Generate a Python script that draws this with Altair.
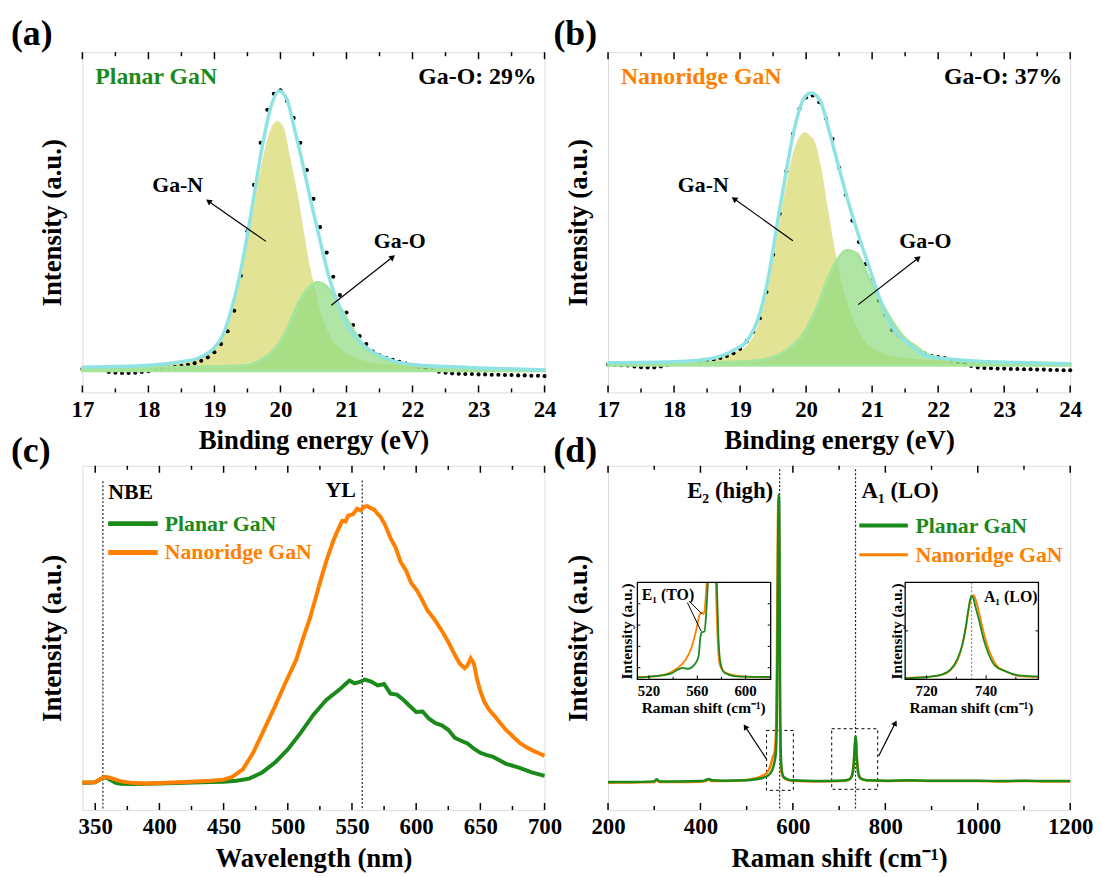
import altair as alt
import pandas as pd

FONT = "Liberation Serif"
GREEN = "#1a8a1a"
ORANGE = "#ff8000"
YELLOW = "#e3e396"
GAO_FILL = "#8fdc7f"
GAO_LINE = "#a6e49a"
CYAN = "#8fe3e3"

W, H1, H2 = 466, 343, 347

# ---------------- (a) Planar GaN, Ga 3d XPS ----------------
a_energy = [17.0, 17.1, 17.2, 17.3, 17.4, 17.5, 17.6, 17.7, 17.8, 17.9, 18.0, 18.1, 18.2, 18.3,
            18.4, 18.5, 18.6, 18.7, 18.8, 18.9, 19.0, 19.1, 19.2, 19.3,
            19.4, 19.5, 19.6, 19.7, 19.8, 19.9, 20.0, 20.1, 20.2, 20.3,
            20.4, 20.5, 20.6, 20.7, 20.8, 20.9, 21.0, 21.1, 21.2, 21.3,
            21.4, 21.5, 21.6, 21.7, 21.8, 21.9, 22.0, 22.1, 22.2, 22.3,
            22.4, 22.5, 22.6, 22.7, 22.8, 22.9, 23.0, 23.1, 23.2, 23.3,
            23.4, 23.5, 23.6, 23.7, 23.8, 23.9, 24.0]
a_counts = [6.9, 6.8, 6.8, 6.7, 6.0, 5.8, 5.7, 5.7, 5.8, 6.0, 6.2, 6.8, 7.0, 7.3,
            7.5, 7.8, 8.1, 8.6, 9.3, 10.3, 11.8, 14.2, 18.0, 24.0,
            34.3, 47.4, 61.0, 73.4, 83.1, 87.8, 88.8, 85.7, 80.7, 73.4,
            65.4, 56.9, 48.6, 41.1, 34.0, 28.6, 23.5, 19.8, 16.6, 14.2,
            12.0, 10.9, 10.2, 9.6, 9.0, 8.5, 8.0, 7.6, 7.1, 6.6,
            6.1, 5.8, 5.6, 5.5, 5.4, 5.4, 5.3, 5.3, 5.2, 5.2,
            5.1, 5.1, 5.0, 5.0, 4.9, 4.9, 4.8]
a_envelope = [(17.0, 7.4), (17.5, 7.6), (18.0, 8.0), (18.5, 9.0), (18.77, 10.2), (18.97, 12.6),
              (19.12, 16.5), (19.27, 25.3), (19.42, 37.9), (19.57, 54.4), (19.72, 71.9),
              (19.85, 83.6), (19.98, 88.6), (20.1, 86.0), (20.22, 76.8), (20.35, 66.1),
              (20.47, 55.4), (20.6, 44.7), (20.72, 35.0), (20.85, 27.2), (20.97, 21.4),
              (21.17, 15.5), (21.37, 12.2), (21.57, 10.3), (21.77, 8.9), (22.0, 8.2),
              (22.5, 7.6), (23.0, 7.2), (24.0, 6.6)]
a_gan = [(17.0, 7.4), (18.0, 7.9), (18.5, 8.8), (18.77, 9.9), (18.97, 12.0), (19.12, 15.5),
         (19.27, 23.5), (19.42, 35.5), (19.57, 51.0), (19.72, 67.0), (19.85, 77.0),
         (19.95, 79.7), (20.05, 77.5), (20.12, 70.9), (20.27, 56.4), (20.42, 38.9),
         (20.52, 30.1), (20.62, 22.5), (20.72, 17.5), (20.97, 11.7), (21.27, 9.2),
         (21.7, 8.0), (22.5, 7.3), (24.0, 6.6)]
a_gao = [(17.0, 7.2), (18.5, 7.4), (19.0, 7.6), (19.47, 7.9), (19.72, 9.7), (19.97, 14.1),
         (20.12, 19.4), (20.27, 26.2), (20.42, 30.6), (20.55, 32.3), (20.7, 31.1),
         (20.87, 26.2), (21.07, 19.4), (21.27, 13.6), (21.47, 10.7), (21.7, 8.8),
         (22.0, 7.9), (22.5, 7.2), (24.0, 6.6)]
a_base = 6.4
a_arrows = [(19.78, 44.4, 18.91, 56.2, 305), (20.77, 25.6, 21.70, 39.8, 52)]

# ---------------- (b) Nanoridge GaN, Ga 3d XPS ----------------
b_energy = a_energy
b_counts = [8.2, 8.1, 8.0, 7.9, 7.6, 7.4, 7.3, 7.3, 7.6, 8.1, 8.3, 8.6, 8.8, 9.0,
            9.2, 9.4, 9.7, 10.1, 10.7, 11.5, 12.8, 15.0, 17.8, 21.8,
            29.5, 40.5, 52.5, 65.0, 76.0, 83.3, 86.7, 87.3, 85.3, 80.5,
            74.5, 66.1, 58.1, 50.5, 44.2, 37.7, 33.0, 27.0, 22.8, 18.3,
            16.8, 15.5, 13.8, 12.3, 11.4, 10.8, 10.4, 10.1, 9.5, 9.0,
            8.3, 7.8, 7.3, 7.2, 7.1, 7.0, 7.0, 6.9, 6.9, 6.8,
            6.8, 6.7, 6.7, 6.6, 6.6, 6.5, 6.5]
b_envelope = [(17.0, 8.7), (18.0, 9.0), (18.62, 10.2), (18.92, 12.6), (19.12, 15.5), (19.27, 21.4),
              (19.42, 33.0), (19.57, 50.5), (19.7, 65.1), (19.82, 77.3), (19.97, 86.5),
              (20.08, 88.0), (20.22, 85.5), (20.35, 76.8), (20.47, 68.0), (20.62, 57.3),
              (20.77, 47.6), (20.92, 38.9), (21.07, 30.1), (21.22, 22.4), (21.37, 17.5),
              (21.57, 14.1), (21.82, 10.7), (22.12, 9.9), (22.6, 9.2), (23.0, 8.9), (24.0, 8.4)]
b_gan = [(17.0, 8.6), (18.0, 8.9), (18.62, 9.9), (18.92, 11.6), (19.12, 14.0), (19.27, 19.2),
         (19.42, 30.0), (19.57, 46.5), (19.7, 60.5), (19.82, 71.0), (19.92, 75.5),
         (19.98, 76.3), (20.05, 75.5), (20.12, 73.9), (20.22, 66.1), (20.32, 54.4),
         (20.42, 42.8), (20.52, 33.0), (20.67, 23.3), (20.87, 15.5), (21.12, 11.7),
         (21.42, 10.2), (22.0, 9.3), (23.0, 8.8), (24.0, 8.4)]
b_gao = [(17.0, 8.5), (18.5, 8.7), (19.0, 9.0), (19.37, 9.7), (19.72, 12.6), (19.97, 17.5),
         (20.17, 25.3), (20.32, 33.0), (20.47, 38.9), (20.62, 41.8), (20.77, 40.8),
         (20.92, 35.0), (21.12, 27.2), (21.32, 20.4), (21.52, 15.5), (21.62, 14.1),
         (21.8, 11.5), (22.0, 10.2), (22.3, 9.3), (23.0, 8.8), (24.0, 8.4)]
b_base = 8.0
b_arrows = [(19.80, 44.6, 18.91, 56.9, 305), (20.79, 25.8, 21.70, 39.5, 52)]

ev_major = [17, 18, 19, 20, 21, 22, 23, 24]
ev_minor = [17.5, 18.5, 19.5, 20.5, 21.5, 22.5, 23.5]

# ---------------- (c) PL spectra ----------------
c_planar = [(340, 7.9), (345, 7.9), (350, 8.0), (354, 9.0), (358, 9.5), (362, 8.7), (366, 7.9),
            (370, 7.6), (380, 7.5), (390, 7.6), (400, 7.7), (420, 7.9), (440, 8.1), (450, 8.2),
            (460, 8.5), (470, 9.1), (480, 10.9), (490, 13.75), (500, 17.6), (510, 22.4),
            (520, 27.7), (530, 32.0), (540, 34.9), (545, 36.6), (548, 37.6), (552, 36.8),
            (556, 37.2), (560, 37.9), (565, 37.3), (570, 36.2), (575, 36.6), (580, 33.8),
            (585, 33.5), (590, 32.0), (595, 30.2), (600, 28.5), (605, 28.6), (610, 26.5),
            (615, 25.2), (620, 24.6), (625, 23.3), (630, 21.0), (635, 20.1), (640, 19.3),
            (645, 17.8), (650, 16.6), (655, 15.9), (660, 15.4), (670, 13.4), (680, 12.3),
            (690, 10.9), (700, 9.9)]
c_nanoridge = [(340, 8.0), (345, 8.0), (350, 8.1), (354, 9.0), (358, 9.6), (362, 9.3), (366, 8.8),
               (370, 8.3), (380, 7.8), (390, 7.7), (400, 7.8), (420, 8.1), (440, 8.5), (450, 8.8),
               (456.7, 9.6), (465, 11.8), (473, 16.6), (481.6, 23.4), (490, 30.1), (498, 36.8),
               (506.5, 43.6), (512, 50.0), (517.5, 56.0), (522, 62.0), (527, 68.6), (531, 73.5),
               (535.5, 78.2), (538, 80.5), (542.4, 84.0), (545, 83.8), (547, 85.5), (550.7, 85.9),
               (554, 87.5), (557, 87.0), (559, 88.0), (562, 88.3), (565, 87.6), (567.3, 87.3),
               (570, 86.0), (572, 85.3), (575.6, 83.0), (580, 79.0), (583.9, 76.3), (588, 72.0),
               (592.2, 69.5), (596, 66.0), (600.5, 63.8), (604, 61.5), (608.8, 58.0), (614, 55.5),
               (619.8, 52.2), (625, 48.8), (630.9, 44.5), (634, 42.5), (637.8, 41.2), (640, 42.0),
               (642.5, 44.0), (645, 42.5), (647.5, 37.8), (650, 34.5), (653, 31.5), (657, 29.0),
               (661.3, 27.2), (665, 25.5), (669.6, 23.4), (675, 21.5), (680.7, 19.5), (686, 18.2),
               (691.7, 17.1), (696, 16.4), (700, 15.7)]
c_marks = [(356, 95.5), (558, 95.7)]
nm_major = [350, 400, 450, 500, 550, 600, 650, 700]
nm_minor = [375, 425, 475, 525, 575, 625, 675]

# ---------------- (d) Raman spectra ----------------
d_planar = [(200, 8.1), (250, 8.1), (300, 8.3), (305, 8.9), (312, 8.3), (350, 8.3), (400, 8.4),
            (410, 8.6), (418, 9.0), (425, 8.6), (450, 8.5), (500, 8.6), (520, 8.9), (535, 9.3),
            (545, 9.9), (552, 10.8), (557, 12.2), (561, 14.5), (563, 16.5), (565, 24.0),
            (566.5, 45.0), (568, 75.0), (569.5, 91.6), (570.5, 88.0), (571.5, 60.0), (572.5, 30.0),
            (574, 16.0), (576, 11.5), (580, 9.6), (590, 8.8), (600, 8.6), (650, 8.4), (700, 8.5),
            (720, 8.8), (726, 9.5), (729, 10.6), (731, 12.5), (733, 16.5), (734.5, 20.0),
            (735.5, 21.5), (736.5, 20.3), (738, 15.8), (740, 12.0), (743, 9.8), (748, 9.0),
            (760, 8.6), (800, 8.5), (850, 8.6), (900, 8.5), (950, 8.5), (1000, 8.5), (1050, 8.4),
            (1100, 8.5), (1150, 8.4), (1200, 8.4)]
d_nanoridge = [(200, 7.9), (250, 8.0), (300, 8.1), (305, 8.6), (312, 8.1), (350, 8.1), (400, 8.2),
               (410, 8.4), (418, 8.8), (425, 8.4), (450, 8.4), (500, 8.7), (520, 9.2), (535, 10.0),
               (545, 11.0), (552, 13.0), (556, 15.2), (558, 15.8), (560, 16.5), (562, 19.0),
               (564, 26.0), (565.5, 45.0), (567, 75.0), (568.5, 90.5), (570, 85.0), (571, 55.0),
               (572, 28.0), (573.5, 15.0), (575.5, 10.8), (580, 9.3), (590, 8.7), (600, 8.5),
               (650, 8.3), (700, 8.4), (720, 8.7), (726, 9.4), (729, 10.5), (731, 12.3), (733, 16.2),
               (734.8, 19.8), (735.8, 21.0), (736.8, 19.9), (738, 16.5), (740, 12.8), (743, 10.2),
               (748, 9.1), (760, 8.6), (800, 8.4), (850, 8.5), (900, 8.4), (950, 8.4), (1000, 8.4),
               (1050, 8.3), (1100, 8.4), (1150, 8.3), (1200, 8.3)]
d_modes = [(571.3, 99.0), (735.5, 99.0)]
d_boxes = [(543, 601, 5.7, 23.1), (684, 783.5, 6.0, 23.6)]
d_arrows = [(543.4, 14.7, 496.8, 24.2, 327), (785.7, 15.7, 821.6, 25.3, 27)]
cm_major = [200, 400, 600, 800, 1000, 1200]
cm_minor = [300, 500, 700, 900, 1100]

# inset 1 : E1(TO) region
i1_planar = [(510.4, 1.7, "L"), (520, 2.7, "L"), (530.4, 4.1, "L"), (538.6, 6.1, "L"), (544.1, 10.2, "L"),
             (548.2, 11.9, "L"), (552.3, 10.9, "L"), (557.8, 15.4, "L"), (561.1, 23.9, "L"),
             (562.7, 44.4, "L"), (563.8, 48.5, "L"), (566.0, 49.5, "L"), (567.4, 68.3, "L"),
             (568.8, 100, "L"),
             (576.2, 100, "R"), (577.5, 44.4, "R"), (579.2, 17.1, "R"), (582.5, 6.8, "R"),
             (590.7, 3.4, "R"), (600.3, 2.7, "R"), (620.8, 2.4, "R")]
i1_nanoridge = [(510.4, 2.4, "L"), (520, 2.7, "L"), (530.4, 4.1, "L"), (537.3, 6.8, "L"), (542.7, 10.9, "L"),
                (549.6, 18.8, "L"), (555.1, 32.4, "L"), (559.2, 51.2, "L"), (561.9, 66.6, "L"),
                (563.8, 68.9, "L"), (565.5, 67.6, "L"), (566.6, 78.5, "L"), (567.7, 100, "L"),
                (575.3, 100, "R"), (577.0, 37.5, "R"), (578.6, 15.4, "R"), (582.5, 7.5, "R"),
                (590.7, 4.1, "R"), (600.3, 2.7, "R"), (620.8, 2.0, "R")]
i1_ticks = [520, 560, 600]
i1_minor = [540, 580]
i1_yticks = [12, 34, 56, 78]
i1_arrows = [(553.2, 80.9, 563.8, 67.6), (551.8, 79.2, 563.3, 49.5)]
i1_dom = [510.4, 620.8]

# inset 2 : A1(LO) region
i2_planar = [(712.8, 1.0), (720, 2.4), (725.3, 5.1), (728.1, 10.2), (730.3, 20.5), (732, 35.8),
             (733.1, 52.9), (734.2, 75.1), (735, 86.0), (735.6, 84.6), (736.4, 75.1), (737.6, 61.4),
             (739.2, 41.0), (740.9, 25.6), (743.1, 13.7), (746.4, 8.5), (750.9, 4.1), (754.2, 3.4),
             (757.6, 3.1)]
i2_nanoridge = [(712.8, 1.4), (720, 2.4), (725.3, 4.8), (728.1, 9.6), (730.3, 19.1), (732, 34.8),
                (733.1, 51.2), (734.2, 72.4), (735.1, 85.3), (735.8, 87.0), (736.7, 80.2), (737.8, 66.6),
                (739.4, 46.1), (741.1, 29.0), (743.3, 15.4), (746.4, 8.5), (750.9, 3.4), (754.2, 2.7),
                (757.6, 2.4)]
i2_ticks = [720, 740]
i2_minor = [730, 750]
i2_yticks = [50]
i2_mode = 735.1
i2_dom = [712.8, 757.6]

# ---------------- helpers ----------------
ONE = pd.DataFrame({"k": [0]})


def sc(dom, rng=None):
    if rng is None:
        return alt.Scale(domain=dom, nice=False, zero=False)
    return alt.Scale(domain=dom, range=rng, nice=False, zero=False)


def x_axis(title, values):
    return alt.Axis(title=title, values=values, format="d", ticks=False, tickSize=0, domain=False,
                    grid=False, labelFont=FONT, labelFontSize=23, labelFontWeight="bold",
                    labelColor="black", labelPadding=6, labelFlush=False, labelOverlap=False,
                    titleFont=FONT, titleFontSize=27, titleFontWeight="bold", titleColor="black",
                    titlePadding=7)


def y_axis():
    return alt.Axis(title="Intensity (a.u.)", labels=False, ticks=False, domain=False, grid=False,
                    titleFont=FONT, titleFontSize=27, titleFontWeight="bold", titleColor="black",
                    titlePadding=16)


def ptext(txt, x, y, size, color="black", align="left", baseline="middle", angle=0):
    return alt.Chart(ONE).mark_text(text=txt, font=FONT, fontSize=size, fontWeight="bold",
                                    color=color, align=align, baseline=baseline, angle=angle).encode(
        x=alt.value(x), y=alt.value(y))


def prule(x0, x1, y0, y1, color, width):
    return alt.Chart(ONE).mark_rule(color=color, strokeWidth=width).encode(
        x=alt.value(x0), x2=alt.value(x1), y=alt.value(y0), y2=alt.value(y1))


def tick_layers(major, minor, XF, H):
    out = []
    for vals, ln in ((major, 7), (minor, 4)):
        df = pd.DataFrame({"t": vals})
        for y0, y1 in ((H, H - ln), (0, ln)):
            out.append(alt.Chart(df).mark_rule(color="black", strokeWidth=1.5).encode(
                x=XF("t"), y=alt.value(y0), y2=alt.value(y1)))
    return out


def arrow_layers(specs, XF, YF, size=45):
    out = []
    for (x0, y0, x1, y1, ang) in specs:
        df = pd.DataFrame({"x0": [x0], "y0": [y0], "x1": [x1], "y1": [y1]})
        out.append(alt.Chart(df).mark_rule(color="black", strokeWidth=1.2).encode(
            x=XF("x0"), y=YF("y0"), x2="x1:Q", y2="y1:Q"))
        out.append(alt.Chart(df).mark_point(shape="triangle-up", filled=True, size=size, angle=ang,
                                            color="black", opacity=1).encode(x=XF("x1"), y=YF("y1")))
    return out


def xps_panel(tag, tag_dx, sample, scolor, pct, ex, ey, env, gan, gao, base, arrows):
    xd, yd = [17, 24], [0, 100]
    xax, yax = x_axis("Binding energy (eV)", ev_major), y_axis()
    XF = lambda f: alt.X(f, type="quantitative", scale=sc(xd), axis=xax)
    YF = lambda f: alt.Y(f, type="quantitative", scale=sc(yd), axis=yax)
    gan_df = pd.DataFrame(gan, columns=["x", "y"])
    gao_df = pd.DataFrame(gao, columns=["x", "y"])
    env_df = pd.DataFrame(env, columns=["x", "y"])
    dot_df = pd.DataFrame({"x": ex, "y": ey})
    layers = [
        alt.Chart(gan_df).mark_area(fill=YELLOW, stroke=YELLOW, strokeWidth=1,
                                    interpolate="monotone").encode(x=XF("x"), y=YF("y"), y2=alt.datum(base)),
        alt.Chart(dot_df).mark_circle(color="black", size=17, opacity=1).encode(x=XF("x"), y=YF("y")),
        alt.Chart(gao_df).mark_area(fill=GAO_FILL, fillOpacity=0.7, stroke=GAO_LINE, strokeWidth=3,
                                    interpolate="monotone").encode(x=XF("x"), y=YF("y"), y2=alt.datum(base)),
        alt.Chart(env_df).mark_line(color=CYAN, strokeWidth=3.5, interpolate="monotone").encode(
            x=XF("x"), y=YF("y")),
    ]
    layers += arrow_layers(arrows, XF, YF)
    layers += tick_layers(ev_major, ev_minor, XF, H1)
    layers += [
        ptext(sample, 13, 25, 24, color=scolor),
        ptext(pct, 458, 25, 24, align="right"),
        ptext("Ga-N", 96, 134, 22, align="center"),
        ptext("Ga-O", 320, 190, 22, align="center"),
        ptext(tag, tag_dx, -35, 36, baseline="top"),
    ]
    return alt.layer(*layers).properties(width=W, height=H1)


# ---------------- panels ----------------
pa = xps_panel("(a)", -72, "Planar GaN", GREEN, "Ga-O: 29%", a_energy, a_counts,
               a_envelope, a_gan, a_gao, a_base, a_arrows)
pb = xps_panel("(b)", -55, "Nanoridge GaN", ORANGE, "Ga-O: 37%", b_energy, b_counts,
               b_envelope, b_gan, b_gao, b_base, b_arrows)

# (c)
c_xax, c_yax = x_axis("Wavelength (nm)", nm_major), y_axis()
CX = lambda f: alt.X(f, type="quantitative", scale=sc([340, 700]), axis=c_xax)
CY = lambda f: alt.Y(f, type="quantitative", scale=sc([0, 100]), axis=c_yax)
c_layers = []
for m, yt in c_marks:
    df = pd.DataFrame({"x": [m], "y0": [yt], "y1": [0]})
    c_layers.append(alt.Chart(df).mark_rule(color="#222222", strokeWidth=1.2, strokeDash=[2, 2]).encode(
        x=CX("x"), y=CY("y0"), y2="y1:Q"))
c_layers += [
    alt.Chart(pd.DataFrame(c_planar, columns=["x", "y"])).mark_line(color=GREEN, strokeWidth=4).encode(
        x=CX("x"), y=CY("y")),
    alt.Chart(pd.DataFrame(c_nanoridge, columns=["x", "y"])).mark_line(color=ORANGE, strokeWidth=4).encode(
        x=CX("x"), y=CY("y")),
]
c_layers += tick_layers(nm_major, nm_minor, CX, H2)
c_layers += [
    ptext("NBE", 26, 26, 22),
    ptext("YL", 275.6, 24, 22, align="right"),
    prule(26, 76, 58.3, 58.3, GREEN, 5),
    prule(26, 76, 87.4, 87.4, ORANGE, 5),
    ptext("Planar GaN", 83, 58.3, 22, color=GREEN),
    ptext("Nanoridge GaN", 83, 87.4, 22, color=ORANGE),
    ptext("(c)", -72, -32, 36, baseline="top"),
]
pc = alt.layer(*c_layers).properties(width=W, height=H2)

# (d) main
d_xax, d_yax = x_axis("Raman shift (cm\u207b\u00b9)", cm_major), y_axis()
DX = lambda f: alt.X(f, type="quantitative", scale=sc([200, 1200]), axis=d_xax)
DY = lambda f: alt.Y(f, type="quantitative", scale=sc([0, 100]), axis=d_yax)
d_layers = []
for m, yt in d_modes:
    df = pd.DataFrame({"x": [m], "y0": [yt], "y1": [0]})
    d_layers.append(alt.Chart(df).mark_rule(color="#222222", strokeWidth=1.2, strokeDash=[2, 2]).encode(
        x=DX("x"), y=DY("y0"), y2="y1:Q"))
for (bx0, bx1, by0, by1) in d_boxes:
    df = pd.DataFrame({"x0": [bx0], "x1": [bx1], "y0": [by0], "y1": [by1]})
    d_layers.append(alt.Chart(df).mark_rect(fillOpacity=0, stroke="black", strokeWidth=1,
                                            strokeDash=[3, 3]).encode(
        x=DX("x0"), x2="x1:Q", y=DY("y0"), y2="y1:Q"))
d_layers += [
    alt.Chart(pd.DataFrame(d_nanoridge, columns=["x", "y"])).mark_line(
        color=ORANGE, strokeWidth=2.5, interpolate="monotone").encode(x=DX("x"), y=DY("y")),
    alt.Chart(pd.DataFrame(d_planar, columns=["x", "y"])).mark_line(
        color=GREEN, strokeWidth=2.5, interpolate="monotone").encode(x=DX("x"), y=DY("y")),
]
d_layers += arrow_layers(d_arrows, DX, DY, size=40)
d_layers += tick_layers(cm_major, cm_minor, DX, H2)
d_layers += [
    ptext("E\u2082 (high)", 166.5, 25.3, 23, align="right"),
    ptext("A\u2081 (LO)", 255.6, 25.3, 23),
    prule(253.3, 302.3, 60.3, 60.3, GREEN, 4),
    prule(253.3, 302.3, 89.6, 89.6, ORANGE, 3),
    ptext("Planar GaN", 310, 60.3, 22, color=GREEN),
    ptext("Nanoridge GaN", 310, 89.6, 22, color=ORANGE),
    ptext("(d)", -55, -32, 36, baseline="top"),
]
d_main = alt.layer(*d_layers)


def inset(px, dom, planar, nanoridge, seg, ticks, minor, yticks, lab_y, title_x, ytitle_x, extra):
    L, R, T, B = px
    xs = sc(dom, [L, R])
    ys = sc([0, 100], [B, T])
    IX = lambda f: alt.X(f, type="quantitative", scale=xs, axis=None)
    IY = lambda f: alt.Y(f, type="quantitative", scale=ys, axis=None)
    cols = ["x", "y", "s"] if seg else ["x", "y"]
    lay = []
    for data, col in ((nanoridge, ORANGE), (planar, GREEN)):
        df = pd.DataFrame(data, columns=cols)
        enc = dict(x=IX("x"), y=IY("y"))
        if seg:
            enc["detail"] = "s:N"
        lay.append(alt.Chart(df).mark_line(color=col, strokeWidth=1.8, interpolate="monotone").encode(**enc))
    lay += extra(IX, IY)
    lay.append(alt.Chart(ONE).mark_rect(fillOpacity=0, stroke="black", strokeWidth=1.3).encode(
        x=alt.value(L), x2=alt.value(R), y=alt.value(T), y2=alt.value(B)))
    tdf = pd.DataFrame({"t": ticks, "lab": [str(t) for t in ticks]})
    mdf = pd.DataFrame({"t": minor})
    ydf = pd.DataFrame({"t": yticks})
    lay += [
        alt.Chart(tdf).mark_rule(color="black", strokeWidth=1).encode(
            x=IX("t"), y=alt.value(B), y2=alt.value(B - 4)),
        alt.Chart(mdf).mark_rule(color="black", strokeWidth=1).encode(
            x=IX("t"), y=alt.value(B), y2=alt.value(B - 2.5)),
        alt.Chart(ydf).mark_rule(color="black", strokeWidth=1).encode(
            y=IY("t"), x=alt.value(L), x2=alt.value(L + 3)),
        alt.Chart(ydf).mark_rule(color="black", strokeWidth=1).encode(
            y=IY("t"), x=alt.value(R), x2=alt.value(R - 3)),
        alt.Chart(tdf).mark_text(font=FONT, fontSize=15, fontWeight="bold", color="black",
                                 baseline="middle").encode(x=IX("t"), y=alt.value(lab_y), text="lab:N"),
        ptext("Raman shift (cm\u207b\u00b9)", title_x, lab_y + 17, 15.5, align="center"),
        ptext("Intensity (a.u.)", ytitle_x, 167, 15.5, align="center", angle=270),
    ]
    return alt.layer(*lay)


def extra1(IX, IY):
    out = []
    for (x0, y0, x1, y1) in i1_arrows:
        df = pd.DataFrame({"x0": [x0], "y0": [y0], "x1": [x1], "y1": [y1]})
        out.append(alt.Chart(df).mark_rule(color="black", strokeWidth=1).encode(
            x=IX("x0"), y=IY("y0"), x2="x1:Q", y2="y1:Q"))
    out.append(ptext("E\u2081 (TO)", 34, 130.3, 16))
    return out


def extra2(IX, IY):
    df = pd.DataFrame({"x": [i2_mode], "y0": [100], "y1": [0]})
    return [
        alt.Chart(df).mark_rule(color="#888888", strokeWidth=1.2, strokeDash=[2, 2]).encode(
            x=IX("x"), y=IY("y0"), y2="y1:Q"),
        ptext("A\u2081 (LO)", 379, 132, 16),
    ]


ins1 = inset((29.6, 164.0, 117.6, 215.3), i1_dom, i1_planar, i1_nanoridge, True,
             i1_ticks, i1_minor, i1_yticks, 227.0, 96.5, 19, extra1)
ins2 = inset((299.6, 434.0, 117.6, 215.3), i2_dom, i2_planar, i2_nanoridge, False,
             i2_ticks, i2_minor, i2_yticks, 227.5, 366.4, 291.3, extra2)

pd_ = alt.layer(d_main, ins1, ins2).resolve_scale(x="independent", y="independent").properties(
    width=W, height=H2)

chart = alt.concat(pa, pb, pc, pd_, columns=2, spacing={"row": 74, "column": 64},
                   bounds="flush").properties(
    padding={"left": 2, "top": 4, "right": 0, "bottom": 0}
).configure_view(stroke="black", strokeWidth=2.5).configure(font=FONT)

chart.save("out.html", embed_options={"renderer": "svg", "actions": False})
